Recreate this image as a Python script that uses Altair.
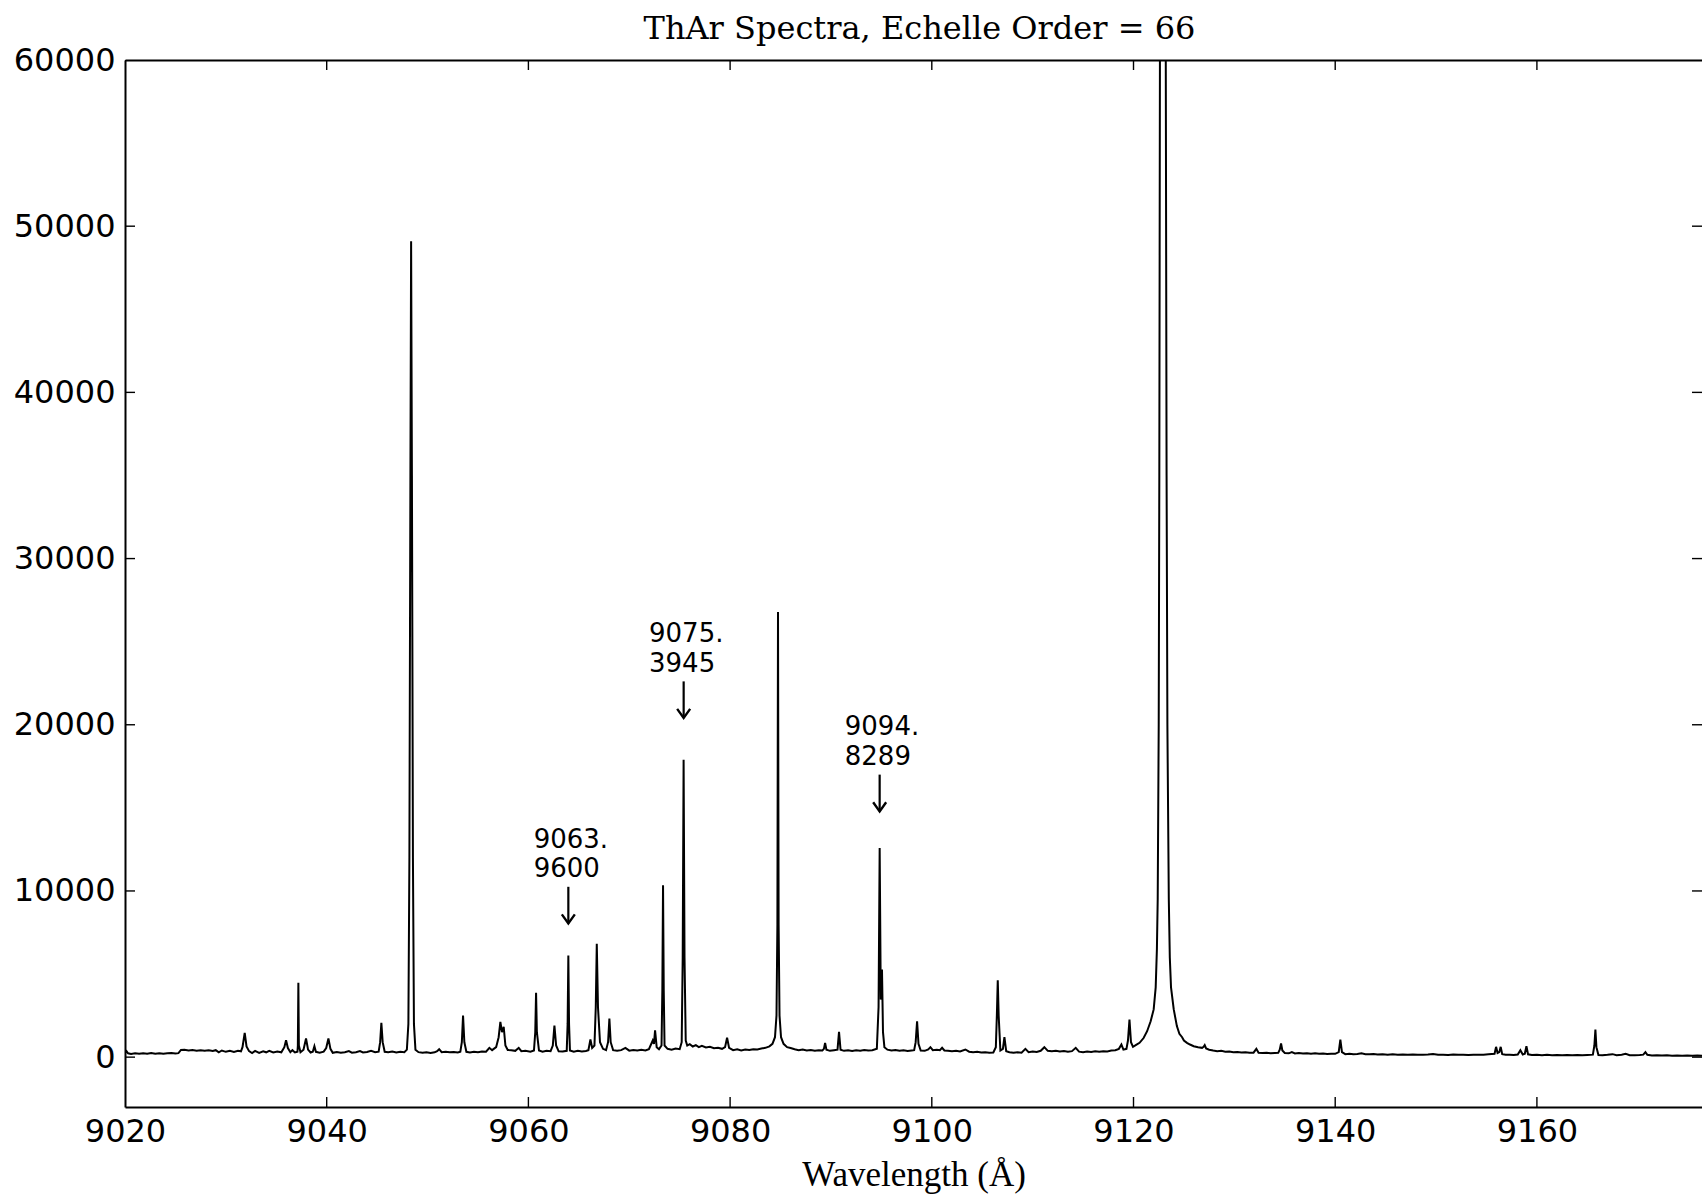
import altair as alt
import pandas as pd

# ---------------- spectrum (wavelength Å, counts) ----------------
seg_9020_9031 = [
    (9020.0, 250), (9020.15, 360), (9020.3, 230), (9020.6, 190), (9021.0, 230), (9021.4, 200),
    (9021.8, 240), (9022.2, 200), (9022.6, 250), (9023.0, 210), (9023.4, 240), (9023.8, 200),
    (9024.2, 230), (9024.6, 250), (9025.0, 220), (9025.3, 240), (9025.55, 430), (9025.9, 440),
    (9026.3, 400), (9026.7, 430), (9027.1, 390), (9027.5, 420), (9027.9, 380), (9028.3, 410),
    (9028.7, 370), (9029.0, 420), (9029.3, 290), (9029.6, 400), (9030.0, 320), (9030.4, 380),
    (9030.8, 310), (9031.2, 380), (9031.5, 350),
]
seg_9031_9046 = [
    (9031.65, 600), (9031.87, 1460), (9032.05, 650), (9032.3, 360), (9032.6, 250), (9032.9, 380),
    (9033.3, 260), (9033.7, 350), (9034.0, 290), (9034.3, 380), (9034.7, 280), (9035.1, 340),
    (9035.5, 290), (9035.8, 600), (9035.97, 1020), (9036.15, 550), (9036.4, 300), (9036.6, 420),
    (9036.85, 280), (9037.1, 320), (9037.14, 700), (9037.19, 4480), (9037.24, 700), (9037.4, 300),
    (9037.7, 450), (9037.95, 1120), (9038.15, 450), (9038.4, 280), (9038.62, 330), (9038.78, 660),
    (9038.93, 320), (9039.3, 270), (9039.7, 330), (9039.95, 550), (9040.17, 1120), (9040.37, 500),
    (9040.6, 260), (9041.0, 310), (9041.4, 260), (9041.8, 290), (9042.2, 360), (9042.5, 270),
    (9042.9, 300), (9043.3, 370), (9043.6, 280), (9044.0, 310), (9044.4, 380), (9044.8, 300),
    (9045.15, 330), (9045.3, 900), (9045.42, 2070), (9045.55, 900), (9045.75, 320),
]
seg_9046_9060 = [
    (9046.1, 300), (9046.5, 340), (9046.9, 280), (9047.3, 330), (9047.7, 300), (9047.95, 450),
    (9048.1, 2000), (9048.2, 12000), (9048.3, 35000), (9048.37, 49100), (9048.45, 35000),
    (9048.55, 12000), (9048.65, 2000), (9048.8, 450), (9049.1, 300), (9049.5, 260), (9049.9, 300),
    (9050.3, 250), (9050.7, 290), (9050.95, 360), (9051.15, 480), (9051.4, 300), (9051.8, 330),
    (9052.2, 290), (9052.6, 310), (9053.0, 280), (9053.25, 330), (9053.4, 900), (9053.52, 2500),
    (9053.65, 900), (9053.85, 320), (9054.2, 280), (9054.6, 330), (9055.0, 290), (9055.4, 340),
    (9055.8, 330), (9056.13, 560), (9056.4, 420), (9056.8, 600), (9057.05, 1200), (9057.22, 2120),
    (9057.38, 1500), (9057.55, 1830), (9057.72, 700), (9057.95, 430), (9058.3, 420), (9058.7, 380),
    (9059.04, 560), (9059.3, 360), (9059.7, 380), (9060.2, 330), (9060.55, 400),
]
seg_9060_9076 = [
    (9060.68, 1500), (9060.76, 3870), (9060.84, 1500), (9061.05, 400), (9061.4, 330), (9061.8, 390),
    (9062.2, 360), (9062.42, 700), (9062.58, 1900), (9062.75, 700), (9063.0, 350), (9063.4, 340),
    (9063.8, 380), (9063.89, 2000), (9063.96, 6110), (9064.03, 2000), (9064.12, 400), (9064.5, 330),
    (9064.9, 380), (9065.3, 340), (9065.7, 370), (9065.95, 420), (9066.15, 1060), (9066.32, 550),
    (9066.55, 700), (9066.68, 3000), (9066.78, 6820), (9066.9, 3000), (9067.1, 900), (9067.4, 500),
    (9067.7, 420), (9067.9, 900), (9068.03, 2320), (9068.16, 900), (9068.4, 420), (9068.8, 380),
    (9069.2, 420), (9069.62, 560), (9070.0, 390), (9070.4, 430), (9070.8, 400), (9071.2, 440),
    (9071.6, 400), (9071.95, 480), (9072.33, 1000), (9072.45, 800), (9072.56, 1620), (9072.72, 600),
    (9072.95, 480), (9073.2, 700), (9073.28, 4000), (9073.35, 10340), (9073.42, 4000), (9073.5, 700),
    (9073.8, 500), (9074.2, 450), (9074.6, 520), (9075.0, 480), (9075.2, 900), (9075.3, 6000),
    (9075.39, 17890), (9075.48, 6000), (9075.6, 1000), (9075.75, 700),
]
seg_9076_9095 = [
    (9076.0, 780), (9076.3, 640), (9076.6, 720), (9076.9, 600), (9077.2, 680), (9077.6, 580),
    (9078.0, 620), (9078.4, 540), (9078.8, 560), (9079.2, 500), (9079.5, 600), (9079.7, 1170),
    (9079.9, 560), (9080.3, 420), (9080.7, 470), (9081.1, 400), (9081.5, 460), (9081.9, 430),
    (9082.3, 480), (9082.7, 460), (9083.1, 520), (9083.5, 560), (9083.9, 650), (9084.2, 800),
    (9084.45, 1200), (9084.6, 2500), (9084.69, 8000), (9084.75, 26780), (9084.81, 8000),
    (9084.9, 2500), (9085.05, 1200), (9085.3, 800), (9085.65, 600), (9086.0, 550), (9086.4, 480),
    (9086.8, 420), (9087.2, 460), (9087.6, 400), (9088.0, 430), (9088.4, 380), (9088.8, 420),
    (9089.15, 400), (9089.3, 500), (9089.42, 860), (9089.55, 450), (9089.9, 380), (9090.3, 420),
    (9090.65, 450), (9090.8, 1520), (9090.95, 450), (9091.3, 380), (9091.7, 410), (9092.1, 370),
    (9092.5, 420), (9092.9, 390), (9093.3, 430), (9093.7, 400), (9094.1, 420), (9094.55, 500),
    (9094.72, 3000), (9094.83, 12590), (9094.94, 3470), (9095.0, 3600), (9095.06, 5270),
    (9095.16, 1500), (9095.3, 600),
]
seg_9095_9120 = [
    (9095.6, 450), (9096.0, 400), (9096.4, 430), (9096.8, 380), (9097.2, 410), (9097.6, 370),
    (9098.0, 400), (9098.25, 420), (9098.4, 900), (9098.54, 2160), (9098.68, 800), (9098.9, 400),
    (9099.3, 380), (9099.65, 470), (9099.86, 600), (9100.1, 420), (9100.5, 450), (9100.8, 420),
    (9101.02, 560), (9101.25, 400), (9101.6, 380), (9102.0, 360), (9102.4, 380), (9102.8, 340),
    (9103.33, 460), (9103.7, 330), (9104.1, 300), (9104.5, 330), (9104.9, 280), (9105.3, 300),
    (9105.7, 270), (9106.1, 280), (9106.35, 600), (9106.45, 2500), (9106.54, 4630), (9106.63, 2500),
    (9106.8, 400), (9107.05, 500), (9107.2, 1200), (9107.38, 350), (9107.7, 290), (9108.1, 260),
    (9108.5, 300), (9108.9, 270), (9109.28, 500), (9109.6, 300), (9110.0, 340), (9110.4, 310),
    (9110.8, 380), (9111.16, 600), (9111.5, 380), (9111.9, 350), (9112.3, 380), (9112.7, 340),
    (9113.1, 370), (9113.5, 330), (9113.9, 360), (9114.27, 560), (9114.6, 330), (9115.0, 300),
    (9115.4, 340), (9115.8, 310), (9116.2, 350), (9116.6, 320), (9117.0, 360), (9117.4, 340),
    (9117.8, 400), (9118.2, 420), (9118.55, 500), (9118.8, 760), (9119.0, 450), (9119.3, 500),
    (9119.45, 1000), (9119.6, 2260), (9119.75, 900), (9119.95, 620),
]
seg_9120_9127 = [
    (9120.3, 750), (9120.6, 860), (9121.0, 1150), (9121.35, 1560), (9121.7, 2160), (9122.0, 2870),
    (9122.2, 4200), (9122.32, 6500), (9122.4, 9500), (9122.5, 20000), (9122.56, 35000),
    (9122.62, 60000), (9122.75, 100000), (9122.92, 130000), (9123.08, 100000), (9123.2, 60000),
    (9123.28, 35000), (9123.36, 20000), (9123.5, 9500), (9123.6, 6000), (9123.72, 4200),
    (9123.99, 2870), (9124.3, 1870), (9124.55, 1400), (9124.82, 1200), (9125.0, 1000),
    (9125.3, 860), (9125.6, 760), (9125.97, 660), (9126.4, 600), (9126.8, 560), (9126.95, 620),
    (9127.06, 720), (9127.2, 520),
]
seg_9127_9177 = [
    (9127.5, 450), (9127.9, 400), (9128.3, 360), (9128.7, 380), (9129.1, 330), (9129.5, 340),
    (9129.9, 300), (9130.3, 310), (9130.7, 280), (9131.1, 300), (9131.5, 260), (9131.9, 270),
    (9132.18, 500), (9132.4, 260), (9132.8, 250), (9133.2, 270), (9133.6, 240), (9134.0, 250),
    (9134.35, 260), (9134.5, 450), (9134.63, 820), (9134.76, 400), (9135.0, 250), (9135.4, 230),
    (9135.7, 300), (9136.0, 220), (9136.4, 250), (9136.8, 220), (9137.2, 240), (9137.6, 210),
    (9138.0, 230), (9138.4, 200), (9138.8, 220), (9139.2, 190), (9139.6, 210), (9140.0, 200),
    (9140.35, 300), (9140.51, 1060), (9140.67, 300), (9141.0, 180), (9141.4, 200), (9141.8, 170),
    (9142.2, 190), (9142.6, 230), (9143.0, 180), (9143.4, 170), (9143.8, 190), (9144.2, 160),
    (9144.7, 180), (9145.2, 150), (9145.7, 170), (9146.2, 150), (9146.7, 160), (9147.2, 140),
    (9147.7, 160), (9148.2, 150), (9148.7, 140), (9149.2, 160), (9149.7, 190), (9150.2, 140),
    (9150.7, 150), (9151.2, 130), (9151.7, 160), (9152.2, 140), (9152.7, 150), (9153.2, 130),
    (9153.7, 150), (9154.2, 140), (9154.7, 150), (9155.2, 170), (9155.8, 200), (9155.95, 620),
    (9156.1, 250), (9156.27, 300), (9156.41, 620), (9156.56, 180), (9156.9, 140), (9157.3, 150),
    (9157.7, 130), (9158.1, 160), (9158.36, 420), (9158.6, 160), (9158.8, 200), (9158.96, 660),
    (9159.12, 170), (9159.5, 130), (9160.0, 140), (9160.5, 120), (9161.0, 140), (9161.5, 120),
    (9162.0, 130), (9162.5, 110), (9163.0, 130), (9163.5, 115), (9164.0, 125), (9164.5, 110),
    (9165.0, 130), (9165.55, 150), (9165.7, 700), (9165.8, 1660), (9165.9, 600), (9166.1, 130),
    (9166.5, 110), (9167.0, 140), (9167.5, 180), (9167.9, 120), (9168.4, 150), (9168.8, 200),
    (9169.2, 120), (9169.7, 110), (9170.2, 130), (9170.55, 150), (9170.76, 300), (9170.95, 140),
    (9171.4, 100), (9171.9, 120), (9172.4, 95), (9172.9, 110), (9173.4, 90), (9173.9, 105),
    (9174.4, 85), (9174.9, 100), (9175.4, 90), (9175.9, 100), (9176.4, 90),
]

# ---------------- axes ----------------
x_ticks = [9020, 9040, 9060, 9080, 9100, 9120, 9140, 9160]
y_ticks = [0, 10000, 20000, 30000, 40000, 50000, 60000]
x_domain = [9020, 9176.37]
y_domain = [-3000, 60000]

# ---------------- annotations ----------------
ann_wavelength = [9063.96, 9075.3945, 9094.8289]
ann_text_line1 = ["9063.", "9075.", "9094."]
ann_text_line2 = ["9600", "3945", "8289"]
ann_text_x = [9060.52, 9071.96, 9091.37]
ann_line1_y = [13060, 25490, 19870]
ann_line2_y = [11340, 23660, 18050]
arrow_tail = [10250, 22610, 17000]
arrow_tip = [8040, 20410, 14790]

# ---------------- tables ----------------
points = (seg_9020_9031 + seg_9031_9046 + seg_9046_9060 + seg_9060_9076 +
          seg_9076_9095 + seg_9095_9120 + seg_9120_9127 + seg_9127_9177)
spec = pd.DataFrame(points, columns=["wl", "counts"])

xtick_df = pd.DataFrame([{"x": v, "y": e} for v in x_ticks for e in y_domain])
ytick_df = pd.DataFrame([{"x": e, "y": v} for v in y_ticks for e in x_domain])
ann_df = pd.DataFrame({"wl": ann_wavelength, "tail": arrow_tail, "tip": arrow_tip})
text_df = pd.DataFrame({
    "x": ann_text_x * 2,
    "y": ann_line1_y + ann_line2_y,
    "label": ann_text_line1 + ann_text_line2,
})

x_scale = alt.Scale(domain=x_domain, nice=False, zero=False)
y_scale = alt.Scale(domain=y_domain, nice=False, zero=False)

line = alt.Chart(spec).mark_line(color="black", strokeWidth=2, clip=True).encode(
    x=alt.X("wl:Q", scale=x_scale, axis=alt.Axis(
        values=x_ticks, format="d", labelFont="DejaVu Sans", labelFontSize=32,
        labelColor="black", labelPadding=9, labelFlush=False, labelOverlap=False,
        ticks=False, grid=False, domain=True, domainColor="black", domainWidth=2,
        title="Wavelength (Å)", titleFont="Liberation Serif", titleFontSize=35,
        titleFontWeight="normal", titleColor="black", titlePadding=10)),
    y=alt.Y("counts:Q", scale=y_scale, axis=alt.Axis(
        values=y_ticks, format="d", labelFont="DejaVu Sans", labelFontSize=32,
        labelColor="black", labelPadding=10, labelFlush=False, labelOverlap=False,
        ticks=False, grid=False, domain=True, domainColor="black", domainWidth=2,
        title=None)),
)

xticks = alt.Chart(xtick_df).mark_tick(
    orient="vertical", size=20, thickness=1.4, color="black", clip=True, opacity=1
).encode(
    x=alt.X("x:Q", scale=x_scale, axis=alt.Axis(
        orient="top", labels=False, ticks=False, grid=False, domain=True,
        domainColor="black", domainWidth=2, title=None)),
    y=alt.Y("y:Q", scale=y_scale, axis=None),
)

yticks = alt.Chart(ytick_df).mark_tick(
    orient="horizontal", size=20, thickness=1.4, color="black", clip=True, opacity=1
).encode(
    x=alt.X("x:Q", scale=x_scale, axis=None),
    y=alt.Y("y:Q", scale=y_scale, axis=None),
)

shafts = alt.Chart(ann_df).mark_rule(color="black", strokeWidth=2.2).encode(
    x=alt.X("wl:Q", scale=x_scale, axis=None),
    y=alt.Y("tail:Q", scale=y_scale, axis=None),
    y2="tip:Q",
)

heads = alt.Chart(ann_df).mark_point(
    shape="M -1 -1.4 L 0 0 L 1 -1.4", size=169, filled=False,
    stroke="black", strokeWidth=2.4, opacity=1
).encode(
    x=alt.X("wl:Q", scale=x_scale, axis=None),
    y=alt.Y("tip:Q", scale=y_scale, axis=None),
)

labels = alt.Chart(text_df).mark_text(
    align="left", baseline="middle", font="DejaVu Sans", fontSize=26, color="black"
).encode(
    x=alt.X("x:Q", scale=x_scale, axis=None),
    y=alt.Y("y:Q", scale=y_scale, axis=None),
    text="label:N",
)

chart = alt.layer(
    line, xticks, yticks, shafts, heads, labels,
    title=alt.TitleParams(
        "ThAr Spectra, Echelle Order = 66", font="DejaVu Serif", fontSize=32,
        fontWeight="normal", color="black", anchor="middle", offset=13, dx=6, dy=15),
).resolve_axis(x="independent", y="independent").properties(
    width=1577, height=1047,
    autosize=alt.AutoSizeParams(type="none"),
    padding={"left": 125, "top": 60, "right": 0, "bottom": 89},
    background="white",
).configure_view(stroke=None)

chart.save("out.html", embed_options={"renderer": "svg", "actions": False})
